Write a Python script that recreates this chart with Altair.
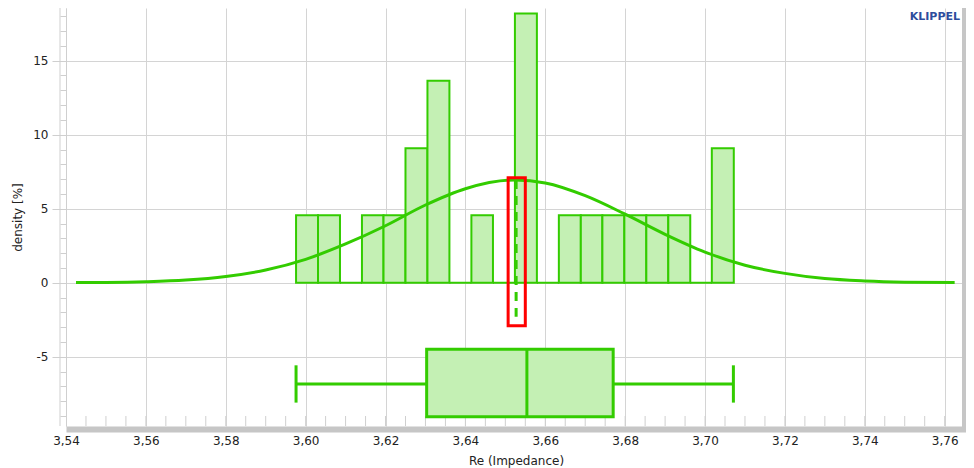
import altair as alt
import pandas as pd

# ---- data ----
bin_edges = [3.5976, 3.6031, 3.6086, 3.6141, 3.6195, 3.6250, 3.6305, 3.6360,
             3.6415, 3.6469, 3.6524, 3.6579, 3.6634, 3.6689, 3.6743, 3.6798,
             3.6853, 3.6908, 3.6963, 3.7017, 3.7072]
densities = [4.55, 4.55, 0, 4.55, 4.55, 9.09, 13.64, 0, 4.55, 0,
             18.18, 0, 4.55, 4.55, 4.55, 4.55, 4.55, 4.55, 0, 9.09]

curve_x = [3.5425, 3.55, 3.56, 3.57, 3.58, 3.59, 3.60, 3.61, 3.62, 3.63, 3.64,
           3.6524, 3.66, 3.67, 3.68, 3.69, 3.70, 3.71, 3.72, 3.73, 3.74, 3.75, 3.7625]
curve_y = [0.01, 0.02, 0.07, 0.18, 0.42, 0.86, 1.58, 2.62, 3.85, 5.25, 6.35,
           6.94, 6.74, 5.88, 4.63, 3.27, 2.07, 1.18, 0.63, 0.28, 0.12, 0.04, 0.01]

box_stats = {"lo": 3.5976, "q1": 3.6303, "median": 3.6554, "q3": 3.6770, "hi": 3.7071}
mean_value = 3.6527
mean_ci = [3.6507, 3.6550]

x_labels = [3.54, 3.56, 3.58, 3.60, 3.62, 3.64, 3.66, 3.68, 3.70, 3.72, 3.74, 3.76]
x_minor = [3.545, 3.55, 3.555, 3.56, 3.565, 3.57, 3.575, 3.58, 3.585, 3.59, 3.595,
           3.60, 3.605, 3.61, 3.615, 3.62, 3.625, 3.63, 3.635, 3.64, 3.645, 3.65,
           3.655, 3.66, 3.665, 3.67, 3.675, 3.68, 3.685, 3.69, 3.695, 3.70, 3.705,
           3.71, 3.715, 3.72, 3.725, 3.73, 3.735, 3.74, 3.745, 3.75, 3.755, 3.76]
y_ticks = list(range(-9, 19))

# ---- styling ----
GREEN = "#33cc00"
FILL = "#c4f0b4"
RED = "#ff0000"
GRID = "#d4d4d4"
FONT = "DejaVu Sans"
W, H = 900, 418

xscale = alt.Scale(domain=[3.54, 3.76534], nice=False, zero=False)
yscale = alt.Scale(domain=[-9.68, 18.56], nice=False, zero=False)

xaxis = alt.Axis(values=x_labels, ticks=False, grid=True, gridColor=GRID,
                 domainColor="#c6c6c6", domainWidth=6, offset=3,
                 labelExpr="replace(format(datum.value, '.2f'), '.', ',')",
                 labelFont=FONT, labelFontSize=12, labelColor="#222",
                 labelPadding=6, title="Re (Impedance)", titleFont=FONT,
                 titleFontSize=12, titleFontWeight="normal", titleColor="#222",
                 titlePadding=9, labelFlush=False)
yaxis = alt.Axis(values=y_ticks, grid=True,
                 gridOpacity={"condition": {"test": "datum.value % 5 === 0", "value": 1}, "value": 0},
                 gridColor=GRID,
                 tickSize={"condition": {"test": "datum.value % 5 === 0", "value": 14}, "value": 6},
                 tickColor="#cfcfcf", domainColor="#cfcfcf",
                 labelExpr="datum.value % 5 === 0 ? '' + datum.value : ''",
                 labelFont=FONT, labelFontSize=12, labelColor="#222", labelPadding=4,
                 title="density [%]", titleFont=FONT, titleFontSize=12,
                 titleFontWeight="normal", titleColor="#222", titlePadding=8)


def X(f):
    return alt.X(f, type="quantitative", scale=xscale, axis=xaxis)


def Y(f):
    return alt.Y(f, type="quantitative", scale=yscale, axis=yaxis)


hist_df = pd.DataFrame({"x": bin_edges[:-1], "x2": bin_edges[1:],
                        "y": [0] * len(densities), "y2": densities})
curve_df = pd.DataFrame({"x": curve_x, "y": curve_y})
minor_df = pd.DataFrame({"x": x_minor})

minor = alt.Chart(minor_df).mark_rule(color="#cfcfcf", strokeWidth=1).encode(
    x=X("x"), y=alt.value(H - 10), y2=alt.value(H))

hist = alt.Chart(hist_df).mark_rect(fill=FILL, stroke=GREEN, strokeWidth=2).encode(
    x=X("x"), x2="x2", y=Y("y"), y2="y2")

curve = alt.Chart(curve_df).mark_line(color=GREEN, strokeWidth=3, interpolate="monotone").encode(
    x=X("x"), y=Y("y"))

mean_df = pd.DataFrame({"x": [mean_value], "y": [6.94], "y2": [-2.3]})
meanline = alt.Chart(mean_df).mark_rule(color=GREEN, strokeWidth=3, strokeDash=[9, 7]).encode(
    x=X("x"), y=Y("y"), y2="y2")

ci_df = pd.DataFrame({"x": [mean_ci[0]], "x2": [mean_ci[1]], "y": [7.1], "y2": [-2.9]})
ci = alt.Chart(ci_df).mark_rect(fillOpacity=0, stroke=RED, strokeWidth=3).encode(
    x=X("x"), x2="x2", y=Y("y"), y2="y2")

box_df = pd.DataFrame({"x": [box_stats["q1"]], "x2": [box_stats["q3"]], "y": [-4.5], "y2": [-9.05]})
box = alt.Chart(box_df).mark_rect(fill=FILL, stroke=GREEN, strokeWidth=3).encode(
    x=X("x"), x2="x2", y=Y("y"), y2="y2")

med_df = pd.DataFrame({"x": [box_stats["median"]], "y": [-4.5], "y2": [-9.05]})
median = alt.Chart(med_df).mark_rule(color=GREEN, strokeWidth=3).encode(
    x=X("x"), y=Y("y"), y2="y2")

wh_df = pd.DataFrame({"x": [box_stats["lo"], box_stats["q3"]],
                      "x2": [box_stats["q1"], box_stats["hi"]],
                      "y": [-6.85, -6.85]})
whiskers = alt.Chart(wh_df).mark_rule(color=GREEN, strokeWidth=3).encode(
    x=X("x"), x2="x2", y=Y("y"))

cap_df = pd.DataFrame({"x": [box_stats["lo"], box_stats["hi"]],
                       "y": [-5.58, -5.58], "y2": [-8.1, -8.1]})
caps = alt.Chart(cap_df).mark_rule(color=GREEN, strokeWidth=3).encode(
    x=X("x"), y=Y("y"), y2="y2")

one = pd.DataFrame({"a": [0]})
left_line = alt.Chart(one).mark_rule(color="#cfcfcf", strokeWidth=1).encode(
    x=alt.value(-6), y=alt.value(0), y2=alt.value(H))
right_bar = alt.Chart(one).mark_rule(color="#c6c6c6", strokeWidth=4).encode(
    x=alt.value(W - 2), y=alt.value(-2), y2=alt.value(H + 6))
brand = alt.Chart(one).mark_text(text="KLIPPEL", align="right", baseline="middle",
                                 font=FONT, fontSize=11, fontWeight="bold",
                                 color="#2d4c9c").encode(x=alt.value(W - 6), y=alt.value(9))

chart = alt.layer(minor, hist, curve, ci, meanline, box, median, whiskers, caps,
                  left_line, right_bar, brand).properties(
    width=W, height=H,
    autosize=alt.AutoSizeParams(type="none"),
    padding={"left": 58, "top": 0, "right": 0, "bottom": 42},
    background="white",
).configure_view(strokeWidth=0)

chart.save("out.html", embed_options={"renderer": "svg", "actions": False})
